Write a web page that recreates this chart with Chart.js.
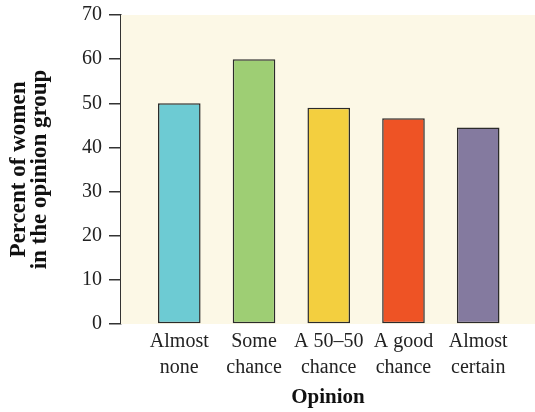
<!DOCTYPE html>
<html>
<head>
<meta charset="utf-8">
<script src="https://cdn.jsdelivr.net/npm/chart.js@4"></script>
<style>
  body { margin: 0; background: #ffffff; }
  #wrap { width: 535px; height: 412px; }
</style>
</head>
<body>
<div id="wrap"><canvas id="MyChart" width="535" height="412"></canvas></div>
<script>
// data
let opinions = [['Almost', 'none'], ['Some', 'chance'], ['A 50\u201350', 'chance'], ['A good', 'chance'], ['Almost', 'certain']]
let percentWomen = [50, 60, 49, 46.6, 44.5]
let barColors = ['#6dcbd3', '#9ece74', '#f3cf3f', '#ee5325', '#847a9f']
let yTicks = [0, 10, 20, 30, 40, 50, 60, 70]

let points = percentWomen.map((v, i) => ({ x: i, y: v }))

// cream plot background
let plotBackground = {
    id: 'plotBackground',
    beforeDatasetsDraw(chart) {
        let { ctx, chartArea } = chart
        ctx.save()
        ctx.fillStyle = '#fcf8e6'
        ctx.fillRect(chartArea.left, chartArea.top, chartArea.right - chartArea.left, chartArea.bottom - chartArea.top)
        ctx.restore()
    }
}

let MyChart = document.getElementById('MyChart').getContext('2d')

let opinionChart = new Chart(MyChart, {
    type: 'bar',
    data: {
        datasets: [{
            label: 'Percent of women',
            data: points,
            backgroundColor: barColors,
            borderColor: '#2b2b2b',
            borderWidth: 1.5,
            borderSkipped: false,
            categoryPercentage: 1,
            barPercentage: 0.57
        }]
    },
    options: {
        responsive: false,
        animation: false,
        layout: {
            padding: { top: 15, right: 0, bottom: 0, left: 0 }
        },
        plugins: {
            legend: { display: false },
            tooltip: { enabled: false }
        },
        scales: {
            x: {
                type: 'linear',
                offset: false,
                bounds: 'data',
                min: -0.78,
                max: 4.76,
                afterDataLimits: (scale) => {
                    scale.min = -0.78
                    scale.max = 4.76
                },
                afterBuildTicks: (scale) => {
                    scale.ticks = opinions.map((o, i) => ({ value: i }))
                },
                afterFit: (scale) => {
                    scale.height = 88
                    scale.paddingLeft = 0
                    scale.paddingRight = 0
                },
                grid: { display: false, drawTicks: false },
                border: { display: false },
                ticks: {
                    autoSkip: false,
                    maxRotation: 0,
                    padding: 5,
                    color: '#222',
                    font: { family: 'Liberation Serif', size: 20, lineHeight: 1.3 },
                    callback: (value) => opinions[value]
                },
                title: {
                    display: true,
                    text: 'Opinion',
                    color: '#111',
                    padding: { top: 0, bottom: 3 },
                    font: { family: 'Liberation Serif', size: 21, weight: 'bold', lineHeight: 1.1 }
                }
            },
            y: {
                min: 0,
                max: 70,
                afterBuildTicks: (scale) => {
                    scale.ticks = yTicks.map(v => ({ value: v }))
                },
                afterFit: (scale) => {
                    scale.width = 121
                    scale.paddingTop = 0
                    scale.paddingBottom = 0
                },
                grid: {
                    drawOnChartArea: false,
                    drawTicks: true,
                    tickLength: 12,
                    color: '#333',
                    lineWidth: 1.5
                },
                border: { display: true, color: '#333', width: 1.5 },
                ticks: {
                    padding: 7,
                    color: '#222',
                    font: { family: 'Liberation Serif', size: 20 }
                },
                title: {
                    display: true,
                    text: ['Percent of women', 'in the opinion group'],
                    color: '#111',
                    padding: { top: 8, bottom: 0 },
                    font: { family: 'Liberation Serif', size: 23, weight: 'bold', lineHeight: 0.92 }
                }
            }
        }
    },
    plugins: [plotBackground]
})
</script>
</body>
</html>
